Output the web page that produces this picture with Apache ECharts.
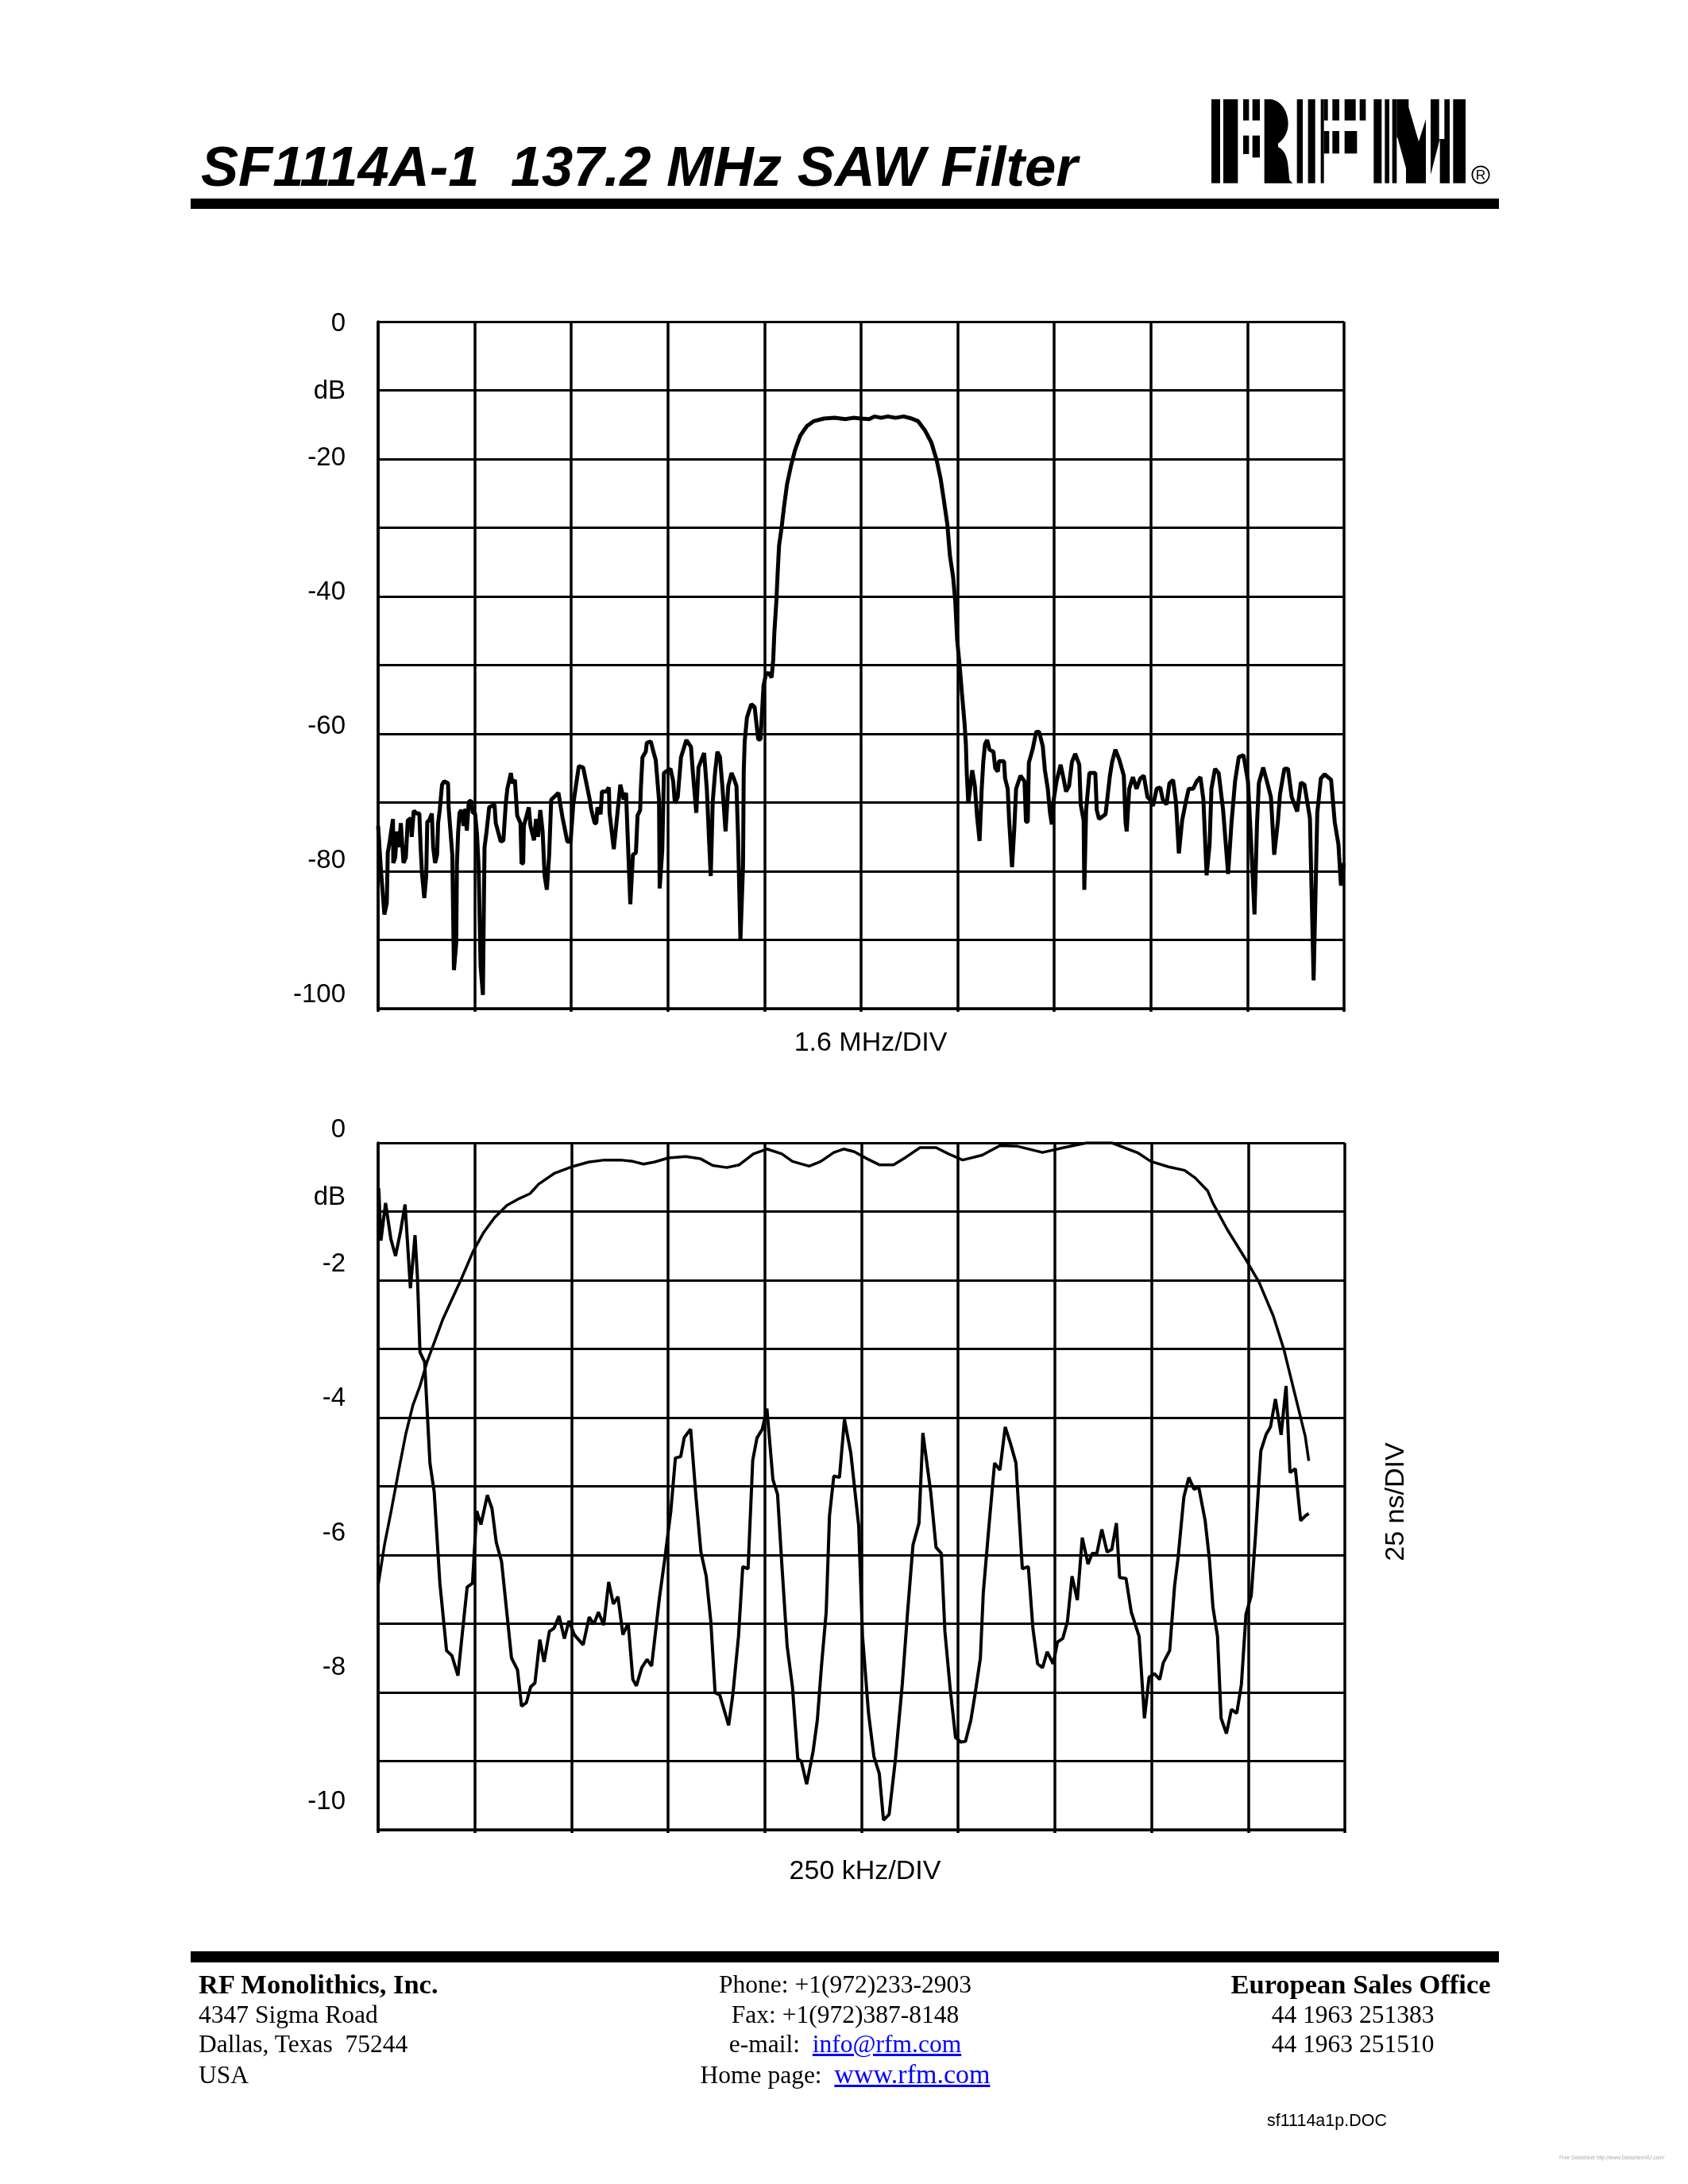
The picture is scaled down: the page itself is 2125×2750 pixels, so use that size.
<!DOCTYPE html>
<html>
<head>
<meta charset="utf-8">
<title>SF1114A-1 137.2 MHz SAW Filter</title>
<script src="https://cdn.jsdelivr.net/npm/echarts@6/dist/echarts.min.js"></script>
<style>
html, body { margin: 0; padding: 0; background: #fff; }
#page { position: relative; width: 2125px; height: 2750px; overflow: hidden; }
#chart { position: absolute; left: 0; top: 0; width: 2125px; height: 2750px; }
.t { position: absolute; white-space: pre; color: #000; line-height: 1; }
.serif { font-family: "Liberation Serif", serif; font-size: 31.5px; }
.center { transform: translateX(-50%); }
.bar { position: absolute; left: 240px; width: 1647px; background: #000; }
a { color: #0000ff; }
</style>
</head>
<body>
<div id="page">
  <div id="chart"></div>
  <div class="t" id="heading" style="left:253px;top:175px;font:italic bold 70.6px 'Liberation Sans',sans-serif;line-height:1;">SF1114A-1  137.2 MHz SAW Filter</div>
  <div class="bar" style="top:250px;height:13px;"></div>
  <svg style="position:absolute;left:1510px;top:110px;" width="390" height="135" viewBox="0 0 1170 405">
    <rect x="45" y="45" width="33" height="317"/><rect x="90" y="45" width="55" height="317"/>
    <rect x="165" y="45" width="22" height="80"/><rect x="200" y="45" width="28" height="80"/>
    <rect x="165" y="182" width="22" height="70"/><rect x="200" y="182" width="28" height="83"/>
    <path d="M245 45H270C310 50 335 95 335 135C335 170 320 195 297 212V225C320 235 333 265 335 300L340 350L352 362H245Z"/>
    <rect x="368" y="45" width="22" height="317"/><rect x="410" y="45" width="27" height="317"/><rect x="458" y="45" width="12" height="317"/>
    <rect x="470" y="45" width="15" height="80"/><rect x="502" y="45" width="26" height="80"/><rect x="548" y="45" width="42" height="80"/><rect x="605" y="45" width="23" height="80"/>
    <rect x="470" y="165" width="20" height="85"/><rect x="502" y="165" width="26" height="85"/><rect x="548" y="165" width="47" height="85"/>
    <rect x="658" y="45" width="30" height="317"/><rect x="700" y="45" width="17" height="317"/><rect x="728" y="45" width="17" height="317"/>
    <path d="M745 45H790V75L828 205L855 120V362H780V305L748 190H745Z"/>
    <path d="M870 45H905V195H908V362H945V45H925V195H908L873 330V45Z"/>
    <rect x="958" y="45" width="47" height="317"/>
    <circle cx="1062" cy="330" r="32" fill="none" stroke="#000" stroke-width="5"/>
    <text x="1062" y="349" text-anchor="middle" font-family="Liberation Sans" font-size="52">R</text>
  </svg>

  <div class="bar" style="top:2457px;height:14px;"></div>
  <div class="t serif" style="left:250px;top:2481px;font-size:34.5px;font-weight:bold;">RF Monolithics, Inc.</div>
  <div class="t serif" style="left:250px;top:2521px;">4347 Sigma Road</div>
  <div class="t serif" style="left:250px;top:2558px;">Dallas, Texas  75244</div>
  <div class="t serif" style="left:250px;top:2597px;">USA</div>
  <div class="t serif center" style="left:1064px;top:2483px;">Phone: +1(972)233-2903</div>
  <div class="t serif center" style="left:1064px;top:2521px;">Fax: +1(972)387-8148</div>
  <div class="t serif center" style="left:1064px;top:2558px;">e-mail:  <a href="#">info@rfm.com</a></div>
  <div class="t serif center" style="left:1064px;top:2595px;">Home page:  <a href="#" style="font-size:34px;">www.rfm.com</a></div>
  <div class="t serif center" style="left:1713px;top:2481px;font-size:34.5px;font-weight:bold;">European Sales Office</div>
  <div class="t serif center" style="left:1703px;top:2521px;">44 1963 251383</div>
  <div class="t serif center" style="left:1703px;top:2558px;">44 1963 251510</div>
  <div class="t" style="left:1595px;top:2658px;font:21.5px 'Liberation Sans',sans-serif;">sf1114a1p.DOC</div>
  <div class="t" style="left:1963px;top:2713px;font:6.5px 'Liberation Sans',sans-serif;color:#aaa;">Free Datasheet http://www.Datasheet4U.com/</div>
</div>
<script>
// Top chart, wideband transmission. x is in divisions of 1.6 MHz, y in dB
var wideX = [
  0, .01, .03, .065, .09, .10, .12, .154, .157, .177, .195, .215, .235, .263, .287, .307, .338, .348, .369, .40,
  .427, .44, .454, .478, .498, .509, .529, .556, .57, .59, .611, .621, .638, .662, .683, .724, .73, .747, .768, .785,
  .809, .816, .829, .843, .863, .884, .904, .918, .939, .962, .98, 1.003, 1.024, 1.041, 1.061, 1.085, 1.096, 1.102, 1.123, 1.15,
  1.205, 1.218, 1.27, 1.297, 1.321, 1.338, 1.375, 1.389, 1.416, 1.44, 1.474, 1.485, 1.502, 1.509, 1.56, 1.577, 1.614, 1.635, 1.655, 1.679,
  1.703, 1.724, 1.747, 1.771, 1.792, 1.867, 1.908, 1.959, 1.993, 2.02, 2.055, 2.078, 2.123, 2.191, 2.208, 2.242, 2.259, 2.27, 2.304, 2.317,
  2.362, 2.389, 2.396, 2.44, 2.481, 2.508, 2.543, 2.567, 2.584, 2.611, 2.638, 2.669, 2.686, 2.713, 2.72, 2.737, 2.771, 2.782, 2.823, 2.85,
  2.874, 2.908, 2.915, 2.942, 2.959, 3.0, 3.027, 3.055, 3.072, 3.102, 3.136, 3.191, 3.239, 3.259, 3.294, 3.317, 3.375, 3.403, 3.427, 3.444,
  3.464, 3.488, 3.512, 3.539, 3.566, 3.597, 3.625, 3.659, 3.683, 3.71, 3.727, 3.751, 3.778, 3.785, 3.795, 3.819, 3.863, 3.898, 3.935, 3.959,
  3.99, 4.014, 4.041, 4.074, 4.091, 4.102, 4.123, 4.137, 4.151, 4.178, 4.2, 4.233, 4.274, 4.316, 4.37, 4.439, 4.508, 4.617, 4.727, 4.837,
  4.919, 5, 5.084, 5.139, 5.207, 5.276, 5.358, 5.44, 5.523, 5.591, 5.66, 5.728, 5.783, 5.824, 5.857, 5.893, 5.92, 5.953, 5.975, 5.995,
  6.022, 6.044, 6.071, 6.085, 6.094, 6.11, 6.132, 6.151, 6.178, 6.2, 6.227, 6.249, 6.265, 6.283, 6.306, 6.329, 6.37, 6.389, 6.416, 6.427,
  6.48, 6.491, 6.518, 6.533, 6.563, 6.586, 6.605, 6.65, 6.692, 6.707, 6.726, 6.737, 6.775, 6.813, 6.843, 6.881, 6.903, 6.933, 6.956, 6.975,
  6.994, 7.024, 7.066, 7.096, 7.122, 7.153, 7.183, 7.217, 7.259, 7.274, 7.304, 7.311, 7.33, 7.364, 7.425, 7.44, 7.463, 7.531, 7.576, 7.599,
  7.633, 7.674, 7.72, 7.738, 7.75, 7.776, 7.814, 7.852, 7.89, 7.927, 7.965, 7.992, 8.022, 8.06, 8.097, 8.124, 8.162, 8.192, 8.23, 8.26,
  8.29, 8.324, 8.362, 8.392, 8.438, 8.475, 8.513, 8.544, 8.577, 8.608, 8.627, 8.664, 8.702, 8.748, 8.8, 8.834, 8.872, 8.91, 8.959, 9.005,
  9.035, 9.073, 9.099, 9.118, 9.163, 9.201, 9.243, 9.277, 9.314, 9.337, 9.382, 9.42, 9.458, 9.515, 9.553, 9.59, 9.647, 9.685, 9.723, 9.76,
  9.798, 9.866, 9.904, 9.942, 9.968, 9.998
];
var wideDb = [
  -73.4, -73.4, -80, -86.3, -84.6, -77.3, -75.7, -72.4, -78.8, -78, -74.2, -76.5, -73, -78.8, -78, -72.6, -72.3, -75, -71.2, -71.6,
  -71.6, -76.5, -80.3, -83.9, -80.7, -72.8, -72.6, -71.6, -76.5, -78.8, -77.6, -73, -71.1, -67.4, -66.9, -67.2, -70.7, -73.8, -77.6, -94.4,
  -90.4, -78.8, -74.2, -71.5, -71.1, -73.4, -70.9, -74.1, -69.9, -69.7, -71.5, -71.5, -74.6, -79.6, -93.8, -98, -83.4, -76.5, -74.2, -70.7,
  -70.3, -73, -75.7, -75.5, -70.3, -68, -65.7, -67.2, -66.7, -71.9, -73, -78.9, -78.8, -73.4, -70.7, -73.4, -75.5, -72.4, -75, -71.1,
  -74.2, -80.7, -82.7, -77.6, -69.6, -68.6, -72.1, -75.7, -75.7, -70.3, -66.9, -64.7, -64.9, -69.6, -71.1, -73, -73, -70.7, -71.7, -68.4,
  -68.4, -67.8, -71.5, -76.8, -71.1, -67.4, -69.6, -68.6, -75, -84.8, -77.6, -77.3, -71.9, -71.1, -68, -63.4, -62.6, -61.3, -61.1, -62.6,
  -63.8, -69.6, -82.5, -76.9, -65.7, -65.3, -65.1, -66.9, -70.1, -69.2, -63.4, -60.9, -61.9, -65.7, -71.5, -64.9, -62.8, -68, -75.7, -80.7,
  -69.9, -65.7, -62.6, -63.4, -68, -74.2, -67.6, -65.7, -66.5, -67.6, -75.3, -90, -79.2, -65.7, -61.1, -57.6, -55.7, -56.1, -60.8, -60.8,
  -53, -51.4, -51.1, -51.8, -49.1, -45.3, -40.7, -36.4, -32.6, -29.9, -27.2, -23.7, -21, -18.7, -16.6, -15.2, -14.5, -14.1, -14, -14.2,
  -14, -14.1, -14.2, -13.8, -14, -13.8, -14, -13.8, -14.1, -14.5, -15.8, -17.6, -20.2, -22.9, -26, -29.5, -34.1, -37.2, -40.7, -46.4,
  -50.3, -54.1, -58.4, -61.5, -65.7, -70.1, -67.6, -65.3, -67.6, -71.9, -75.6, -68, -64.1, -61.5, -60.9, -62.3, -62.6, -65, -65.5, -64,
  -64, -66.5, -68, -72.6, -79.4, -73.8, -68, -66.1, -66.9, -72.8, -72.8, -64.2, -62.3, -59.7, -59.7, -61.8, -65.3, -68, -71.5, -73.2,
  -69.6, -66.9, -64.5, -66.5, -68.4, -67.6, -64.1, -62.9, -64.5, -70.3, -72.6, -82.7, -71.1, -65.7, -65.7, -71.1, -72.4, -71.7, -66.1, -64.1,
  -62.3, -63.8, -66.1, -72.9, -74.2, -68, -66.3, -68, -66.5, -66.1, -69.2, -69.6, -70.5, -68, -67.8, -69.6, -70.3, -67.2, -66.7, -69.9,
  -77.4, -72.6, -69.9, -68, -68, -66.9, -66.3, -69.6, -80.6, -76.1, -68, -65.1, -65.7, -71.1, -80.4, -73.1, -66.9, -63.4, -63.1, -66.9,
  -75, -86.3, -73.1, -67.2, -64.9, -66.9, -69.2, -77.6, -72.9, -68.8, -65.1, -65.1, -69.2, -71.3, -67.1, -67.4, -72.3, -95.9, -71.5, -66.5,
  -65.9, -66.7, -72.9, -76.1, -82.1, -78.8
];

// Bottom chart, passband amplitude. x in divisions of 250 kHz, y in dB
var ampX = [
  0, .066, .139, .213, .286, .36, .433, .506, .58, .672, .763, .855, .983, 1.094, 1.204, 1.332, 1.461, 1.571, 1.662, 1.828,
  2.0, 2.176, 2.341, 2.506, 2.635, 2.745, 2.855, 3.002, 3.185, 3.332, 3.461, 3.607, 3.736, 3.883, 4.022, 4.176, 4.286, 4.459, 4.58, 4.714,
  4.816, 4.927, 5.055, 5.184, 5.331, 5.459, 5.606, 5.771, 5.9, 6.047, 6.249, 6.432, 6.616, 6.873, 7.093, 7.332, 7.589, 7.864, 7.993, 8.177,
  8.342, 8.452, 8.581, 8.636, 8.783, 8.985, 9.113, 9.26, 9.37, 9.48, 9.59, 9.627
];
var ampDb = [
  -6.45, -5.85, -5.33, -4.77, -4.24, -3.82, -3.54, -3.19, -2.91, -2.56, -2.28, -2.0, -1.58, -1.3, -1.09, -.91, -.81, -.74, -.6, -.44,
  -.35, -.28, -.25, -.25, -.27, -.31, -.28, -.22, -.2, -.23, -.33, -.36, -.32, -.16, -.09, -.16, -.27, -.34, -.27, -.14,
  -.09, -.13, -.23, -.32, -.32, -.21, -.07, -.07, -.16, -.25, -.18, -.04, -.05, -.14, -.07, 0, 0, -.15, -.27, -.35,
  -.4, -.51, -.7, -.88, -1.26, -1.72, -2.03, -2.52, -3.01, -3.64, -4.27, -4.63
];

// Bottom chart, group delay in ns above the bottom of the plot (25 ns/DIV)
var delayX = [
  .007, .029, .077, .132, .18, .231, .279, .334, .382, .407, .433, .481, .536, .58, .639, .708, .763, .826, .873, .921,
  .976, 1.02, 1.064, 1.13, 1.178, 1.222, 1.277, 1.38, 1.442, 1.483, 1.534, 1.578, 1.622, 1.673, 1.717, 1.772, 1.82, 1.872, 1.927, 1.974,
  2.029, 2.121, 2.183, 2.231, 2.279, 2.334, 2.385, 2.433, 2.481, 2.532, 2.587, 2.635, 2.672, 2.727, 2.782, 2.829, 2.91, 2.965, 3.028, 3.075,
  3.13, 3.167, 3.233, 3.288, 3.339, 3.394, 3.442, 3.486, 3.534, 3.626, 3.67, 3.728, 3.772, 3.827, 3.875, 3.919, 3.974, 4.022, 4.084, 4.132,
  4.176, 4.231, 4.286, 4.341, 4.378, 4.433, 4.499, 4.543, 4.587, 4.635, 4.669, 4.714, 4.772, 4.824, 4.89, 4.971, 5.011, 5.073, 5.129, 5.184,
  5.228, 5.286, 5.349, 5.422, 5.477, 5.533, 5.595, 5.635, 5.716, 5.771, 5.826, 5.863, 5.918, 5.973, 6.028, 6.076, 6.131, 6.175, 6.23, 6.26,
  6.315, 6.377, 6.432, 6.487, 6.542, 6.598, 6.664, 6.726, 6.774, 6.822, 6.873, 6.921, 6.983, 7.027, 7.082, 7.13, 7.178, 7.233, 7.284, 7.343,
  7.387, 7.435, 7.486, 7.541, 7.589, 7.637, 7.67, 7.736, 7.791, 7.872, 7.927, 7.975, 8.03, 8.085, 8.122, 8.188, 8.239, 8.276, 8.335, 8.386,
  8.441, 8.489, 8.555, 8.599, 8.636, 8.683, 8.72, 8.775, 8.827, 8.882, 8.93, 8.977, 9.032, 9.076, 9.131, 9.187, 9.231, 9.282, 9.341, 9.392,
  9.433, 9.488, 9.543, 9.59, 9.627
];
var delayNs = [
  233.4, 214.4, 228.1, 215, 208.8, 217.6, 227.6, 197.1, 216.4, 201, 173.8, 170.3, 133.5, 123, 89.7, 65.2, 63.4, 56.1, 72.2, 88.3,
  89.7, 116, 111.1, 121.8, 116.9, 104.6, 97.6, 62.5, 58.2, 45, 46.3, 52, 53.4, 69.2, 61.1, 72.2, 73.4, 77.8, 69.6, 76,
  71, 67.3, 77.4, 74.8, 79.2, 74.5, 90.2, 82.2, 84.8, 71, 75.2, 54.7, 52.4, 59, 62, 59.6, 84.4, 98.5, 116, 135.3,
  135.8, 142.8, 145.8, 121.2, 101.1, 92.3, 75.7, 49.9, 49.1, 38, 49.4, 70.4, 95.8, 95, 134.4, 142.6, 145.8, 153.3, 127.4, 122.1,
  96.7, 66.9, 52, 25.8, 24.9, 16.6, 28.4, 39.8, 59.9, 79.2, 114.2, 128.8, 128.2, 149.3, 137, 110.7, 70.4, 42.4, 26.6, 20.5,
  3.5, 5.6, 24.9, 52.9, 79.2, 103.7, 111.6, 144.4, 123, 102.8, 100.6, 72.2, 51.2, 33.6, 31.9, 32.2, 39.8, 49.4, 62.5, 86.2,
  109, 133.5, 130.9, 146.6, 140.5, 133.5, 95, 95.8, 73.1, 60.4, 59, 64.8, 60.4, 68.3, 69.6, 75.7, 92.3, 83.6, 106.3, 96.7,
  100.6, 100.6, 109.3, 101.1, 102, 111.6, 91.8, 91.5, 79.2, 70.4, 40.6, 55.5, 56.8, 54.7, 60.8, 65.2, 88.8, 99.3, 121.2, 128.2,
  123.9, 124.7, 112.5, 98.5, 80.9, 70.4, 40.6, 35, 43.8, 42.4, 52.9, 78.3, 85.3, 107.2, 137.9, 144, 146.6, 156.8, 143.7, 161.5,
  130, 131.4, 112.5, 114.2, 115.1
];

// tick labels printed beside the plots
var wideLabels = { '0': '0', '-10': 'dB', '-20': '-20', '-40': '-40', '-60': '-60', '-80': '-80', '-100': '-100' };
var ampLabels = { '0': '0', '-1': 'dB', '-2': '-2', '-4': '-4', '-6': '-6', '-8': '-8', '-10': '-10' };

function pairs(xs, ys) {
  var out = [];
  for (var i = 0; i < xs.length; i++) { out.push([xs[i], ys[i]]); }
  return out;
}

var font = '"Liberation Sans", sans-serif';
var black = { color: '#000', width: 3.5 };

function plotX(gridIndex) {
  return {
    type: 'value', gridIndex: gridIndex, min: 0, max: 10, interval: 1,
    axisLabel: { show: false },
    axisLine: { show: true, onZero: false, lineStyle: black },
    axisTick: { show: true, length: 4, lineStyle: black },
    splitLine: { show: true, lineStyle: black }
  };
}

function plotY(gridIndex, min, interval) {
  return {
    type: 'value', gridIndex: gridIndex, min: min, max: 0, interval: interval,
    axisLabel: { show: false },
    axisLine: { show: true, onZero: false, lineStyle: black },
    axisTick: { show: false },
    splitLine: { show: true, lineStyle: { color: '#000', width: 3 } }
  };
}

// the printed labels run on a slightly tighter scale than the grid, so they get their own axis
function labelX(gridIndex) {
  return { type: 'value', gridIndex: gridIndex, min: 0, max: 10, show: false };
}

function labelY(gridIndex, min, values, names) {
  return {
    type: 'value', gridIndex: gridIndex, min: min, max: 0,
    axisLine: { show: false },
    axisTick: { show: false },
    splitLine: { show: false },
    axisLabel: {
      show: true, margin: 41, fontFamily: font, fontSize: 33, color: '#000',
      customValues: values,
      formatter: function (v) { return names[String(v)]; }
    }
  };
}

var chart = echarts.init(document.getElementById('chart'));
chart.setOption({
  animation: false,
  backgroundColor: '#fff',
  grid: [
    { left: 476, top: 405, width: 1216, height: 865 },
    { left: 476, top: 408, width: 1216, height: 845 },
    { left: 476, top: 1439, width: 1217, height: 865 },
    { left: 476, top: 1423, width: 1217, height: 846 }
  ],
  xAxis: [plotX(0), labelX(1), plotX(2), labelX(3)],
  yAxis: [
    plotY(0, -100, 10),
    labelY(1, -100, [0, -10, -20, -40, -60, -80, -100], wideLabels),
    plotY(2, -10, 1),
    labelY(3, -10, [0, -1, -2, -4, -6, -8, -10], ampLabels),
    { type: 'value', gridIndex: 2, min: 0, max: 250, show: false }
  ],
  series: [
    {
      name: 'Transmission', type: 'line', xAxisIndex: 0, yAxisIndex: 0, showSymbol: false, silent: true,
      data: pairs(wideX, wideDb), lineStyle: { color: '#000', width: 5 }
    },
    {
      name: 'Amplitude', type: 'line', xAxisIndex: 2, yAxisIndex: 2, showSymbol: false, silent: true,
      data: pairs(ampX, ampDb), lineStyle: { color: '#000', width: 3.5 }
    },
    {
      name: 'Group delay', type: 'line', xAxisIndex: 2, yAxisIndex: 4, showSymbol: false, silent: true,
      data: pairs(delayX, delayNs), lineStyle: { color: '#000', width: 4 }
    }
  ],
  graphic: [
    { type: 'text', x: 1096, y: 1314, style: { text: '1.6 MHz/DIV', font: '34px ' + font, fill: '#000', align: 'center', verticalAlign: 'middle' } },
    { type: 'text', x: 1089, y: 2357, style: { text: '250 kHz/DIV', font: '34px ' + font, fill: '#000', align: 'center', verticalAlign: 'middle' } },
    { type: 'text', x: 1758, y: 1891, rotation: Math.PI / 2, style: { text: '25 ns/DIV', font: '34px ' + font, fill: '#000', align: 'center', verticalAlign: 'middle' } }
  ]
});
</script>
</body>
</html>
